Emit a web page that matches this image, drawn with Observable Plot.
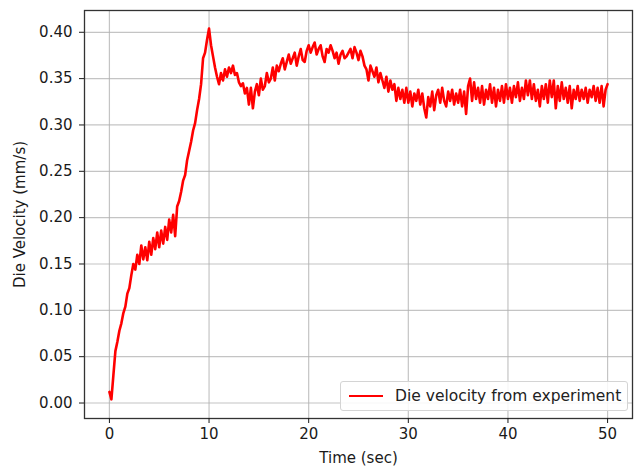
<!DOCTYPE html>
<html><head><meta charset="utf-8">
<script src="https://cdn.jsdelivr.net/npm/d3@7"></script>
<script src="https://cdn.jsdelivr.net/npm/@observablehq/plot@0.6"></script>
<style>
html,body{margin:0;padding:0;background:#fff;}
#wrap{position:relative;width:634px;height:467px;}
#legend{position:absolute;left:340px;top:381px;width:288px;height:30px;box-sizing:border-box;border:1px solid #d4d4d4;border-radius:3px;background:rgba(255,255,255,0.85);font:15.5px "DejaVu Sans",sans-serif;color:#222;}
#legend .sw{position:absolute;left:8px;top:13px;width:34px;height:2px;background:red;}
#legend .tx{position:absolute;left:54px;top:5px;white-space:nowrap;line-height:18px;}
</style>
</head><body>
<div id="wrap"><div id="chart"></div><div id="legend"></div></div>
<script>
const seriesLabel = "Die velocity from experiment";
const xLabel = "Time (sec)";
const yLabel = "Die Velocity (mm/s)";
const xTicks = [0, 10, 20, 30, 40, 50];
const yTicks = [0, 0.05, 0.10, 0.15, 0.20, 0.25, 0.30, 0.35, 0.40];

const time = [
0,0.2,0.4,0.6,0.8,1,1.2,1.4,1.6,1.8,2,2.2,2.4,2.6,2.8,3,3.2,3.4,3.6,3.8,
4,4.2,4.4,4.6,4.8,5,5.2,5.4,5.6,5.8,6,6.2,6.4,6.6,6.8,7,7.2,7.4,7.6,7.8,
8,8.2,8.4,8.6,8.8,9,9.2,9.4,9.6,9.8,10,10.2,10.4,10.6,10.8,11,11.2,11.4,11.6,11.8,
12,12.2,12.4,12.6,12.8,13,13.2,13.4,13.6,13.8,14,14.2,14.4,14.6,14.8,15,15.2,15.4,15.6,15.8,
16,16.2,16.4,16.6,16.8,17,17.2,17.4,17.6,17.8,18,18.2,18.4,18.6,18.8,19,19.2,19.4,19.6,19.8,
20,20.2,20.4,20.6,20.8,21,21.2,21.4,21.6,21.8,22,22.2,22.4,22.6,22.8,23,23.2,23.4,23.6,23.8,
24,24.2,24.4,24.6,24.8,25,25.2,25.4,25.6,25.8,26,26.2,26.4,26.6,26.8,27,27.2,27.4,27.6,27.8,
28,28.2,28.4,28.6,28.8,29,29.2,29.4,29.6,29.8,30,30.2,30.4,30.6,30.8,31,31.2,31.4,31.6,31.8,
32,32.2,32.4,32.6,32.8,33,33.2,33.4,33.6,33.8,34,34.2,34.4,34.6,34.8,35,35.2,35.4,35.6,35.8,
36,36.2,36.4,36.6,36.8,37,37.2,37.4,37.6,37.8,38,38.2,38.4,38.6,38.8,39,39.2,39.4,39.6,39.8,
40,40.2,40.4,40.6,40.8,41,41.2,41.4,41.6,41.8,42,42.2,42.4,42.6,42.8,43,43.2,43.4,43.6,43.8,
44,44.2,44.4,44.6,44.8,45,45.2,45.4,45.6,45.8,46,46.2,46.4,46.6,46.8,47,47.2,47.4,47.6,47.8,
48,48.2,48.4,48.6,48.8,49,49.2,49.4,49.6,49.8,50
];

const velocity = [
0.012,0.004,0.030,0.056,0.066,0.078,0.086,0.097,0.104,0.118,0.124,0.138,0.150,0.144,0.160,0.150,0.170,0.155,0.168,0.154,
0.174,0.160,0.178,0.166,0.184,0.168,0.186,0.172,0.190,0.176,0.198,0.184,0.203,0.180,0.212,0.218,0.228,0.240,0.246,0.262,
0.272,0.282,0.294,0.302,0.316,0.328,0.344,0.372,0.378,0.392,0.404,0.386,0.374,0.362,0.352,0.344,0.356,0.348,0.360,0.352,
0.362,0.356,0.364,0.354,0.356,0.346,0.342,0.345,0.334,0.340,0.322,0.340,0.318,0.336,0.344,0.332,0.350,0.338,0.342,0.356,
0.346,0.350,0.362,0.348,0.364,0.358,0.366,0.372,0.360,0.368,0.376,0.366,0.372,0.378,0.364,0.374,0.382,0.370,0.368,0.380,
0.386,0.378,0.384,0.389,0.376,0.382,0.386,0.374,0.368,0.382,0.378,0.386,0.380,0.372,0.378,0.366,0.376,0.380,0.372,0.374,
0.378,0.382,0.372,0.384,0.378,0.370,0.380,0.374,0.364,0.360,0.348,0.364,0.358,0.352,0.362,0.346,0.356,0.348,0.340,0.352,
0.336,0.348,0.338,0.344,0.326,0.340,0.328,0.338,0.324,0.340,0.324,0.336,0.320,0.334,0.326,0.338,0.322,0.334,0.318,0.308,
0.330,0.320,0.336,0.316,0.332,0.338,0.324,0.340,0.326,0.320,0.336,0.326,0.338,0.322,0.334,0.324,0.338,0.320,0.336,0.312,
0.342,0.350,0.326,0.346,0.328,0.340,0.324,0.342,0.322,0.338,0.328,0.344,0.324,0.340,0.320,0.338,0.326,0.342,0.324,0.344,
0.328,0.340,0.324,0.342,0.330,0.346,0.326,0.340,0.328,0.348,0.332,0.348,0.328,0.344,0.326,0.338,0.320,0.342,0.328,0.344,
0.324,0.348,0.330,0.348,0.318,0.342,0.326,0.346,0.328,0.340,0.324,0.342,0.318,0.338,0.328,0.342,0.326,0.338,0.328,0.340,
0.324,0.338,0.330,0.342,0.326,0.340,0.324,0.342,0.320,0.338,0.344
];

const data = time.map((t, i) => ({t, v: velocity[i]}));

const gridStyle = {stroke: "#b0b0b0", strokeOpacity: 0.75, strokeWidth: 1.2};
const fmt = d => d.toFixed(2);

const chart = Plot.plot({
  width: 634, height: 467,
  marginLeft: 84, marginRight: 2, marginTop: 10, marginBottom: 49,
  style: {fontFamily: "'DejaVu Sans', sans-serif", fontSize: "15px", color: "#1a1a1a", background: "white"},
  x: {domain: [-2.5, 52.5]},
  y: {domain: [-0.0167, 0.4235]},
  marks: [
    Plot.gridX(xTicks, gridStyle),
    Plot.gridY(yTicks, gridStyle),
    Plot.line(data, {x: "t", y: "v", stroke: "red", strokeWidth: 2.6}),
    Plot.frame({stroke: "#333", strokeWidth: 1.3}),
    Plot.axisX(xTicks, {tickSize: 5, tickPadding: 5, fontSize: 15, label: xLabel, labelAnchor: "center", labelArrow: "none", labelOffset: 44}),
    Plot.axisY(yTicks, {tickSize: 5, tickPadding: 7, fontSize: 15, tickFormat: fmt, label: yLabel, labelAnchor: "center", labelArrow: "none", labelOffset: 70})
  ]
});
document.getElementById("chart").appendChild(chart);

const lg = document.getElementById("legend");
lg.innerHTML = '<div class="sw"></div><div class="tx"></div>';
lg.querySelector(".tx").textContent = seriesLabel;
</script>
</body></html>
